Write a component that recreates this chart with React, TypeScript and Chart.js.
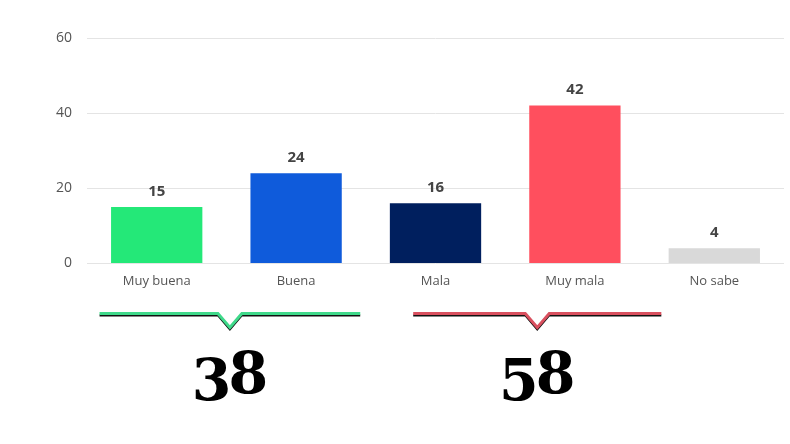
import React, { useEffect, useRef } from "react";
import { Chart, registerables } from "chart.js";

Chart.register(...registerables);

const categories = ["Muy buena", "Buena", "Mala", "Muy mala", "No sabe"];
const values = [15, 24, 16, 42, 4];
const barColors = ["#24e878", "#0f5bdb", "#001f5e", "#ff4f5e", "#d9d9d9"];
const yTicks = [0, 20, 40, 60];

// grouped totals shown under brackets
const groupTotals = [38, 58];
const groupColors = ["#3fd98a", "#d9505f"];
// bracket extents in category-index units
const groupStart = [-0.41, 1.84];
const groupEnd = [1.46, 3.62];

const valueLabelPlugin = {
  id: "valueLabels",
  afterDatasetsDraw(chart: any) {
    const ctx = chart.ctx;
    const meta = chart.getDatasetMeta(0);
    ctx.save();
    ctx.font = "bold 15px 'Open Sans', sans-serif";
    ctx.fillStyle = "#444444";
    ctx.textAlign = "center";
    ctx.textBaseline = "bottom";
    meta.data.forEach((bar: any, i: number) => {
      ctx.fillText(String(values[i]), bar.x, bar.y - 8);
    });
    ctx.restore();
  },
};

const bracketPlugin = {
  id: "brackets",
  afterDraw(chart: any) {
    const ctx = chart.ctx;
    const xs = chart.scales.x;
    const c0 = xs.getPixelForValue(0);
    const step = xs.getPixelForValue(1) - c0;
    const lineY = chart.chartArea.bottom + 50;
    const notch = 14;
    groupTotals.forEach((total, g) => {
      const x1 = c0 + groupStart[g] * step;
      const x2 = c0 + groupEnd[g] * step;
      const mid = (x1 + x2) / 2;
      const path = (dy: number) => {
        ctx.beginPath();
        ctx.moveTo(x1, lineY + dy);
        ctx.lineTo(mid - 12, lineY + dy);
        ctx.lineTo(mid, lineY + notch + dy);
        ctx.lineTo(mid + 12, lineY + dy);
        ctx.lineTo(x2, lineY + dy);
        ctx.stroke();
      };
      ctx.save();
      ctx.lineJoin = "miter";
      ctx.strokeStyle = "#111111";
      ctx.lineWidth = 2;
      path(2);
      ctx.strokeStyle = groupColors[g];
      ctx.lineWidth = 3;
      path(0);
      // number with old-style figure look
      const s = String(total);
      ctx.font = "bold 57px 'DejaVu Serif', serif";
      ctx.fillStyle = "#000000";
      ctx.textBaseline = "alphabetic";
      ctx.textAlign = "left";
      const widths = s.split("").map((ch) => ctx.measureText(ch).width);
      const tw = widths.reduce((a, b) => a + b, 0) - 3;
      let x = mid - tw / 2;
      const baseY = lineY + 80;
      s.split("").forEach((ch, i) => {
        ctx.fillText(ch, x, i === 0 ? baseY + 7 : baseY);
        x += widths[i] - 3;
      });
      ctx.restore();
    });
  },
};

export default function App() {
  const ref = useRef<HTMLCanvasElement>(null);
  useEffect(() => {
    const chart = new Chart(ref.current!, {
      type: "bar",
      data: {
        labels: categories,
        datasets: [
          {
            data: values,
            backgroundColor: barColors,
            categoryPercentage: 0.655,
            barPercentage: 1,
          },
        ],
      },
      options: {
        animation: false,
        responsive: false,
        layout: { padding: { left: 41, right: 6, top: 38, bottom: 153 } },
        plugins: { legend: { display: false }, tooltip: { enabled: false } },
        scales: {
          x: {
            grid: { display: false },
            border: { display: false },
            ticks: {
              color: "#555555",
              font: { family: "'Open Sans', sans-serif", size: 13 },
              padding: 2,
            },
          },
          y: {
            min: 0,
            max: 60,
            afterBuildTicks: (axis: any) => {
              axis.ticks = yTicks.map((v) => ({ value: v }));
            },
            grid: { color: "#e4e4e4", drawTicks: false },
            border: { display: false },
            ticks: {
              color: "#555555",
              font: { family: "'Open Sans', sans-serif", size: 14 },
              padding: 15,
            },
          },
        },
      },
      plugins: [valueLabelPlugin, bracketPlugin],
    });
    return () => chart.destroy();
  }, []);
  return (
    <div style={{ position: "fixed", left: 0, top: 0, width: 790, height: 444, background: "#fff" }}>
      <canvas ref={ref} width={790} height={444} />
    </div>
  );
}
